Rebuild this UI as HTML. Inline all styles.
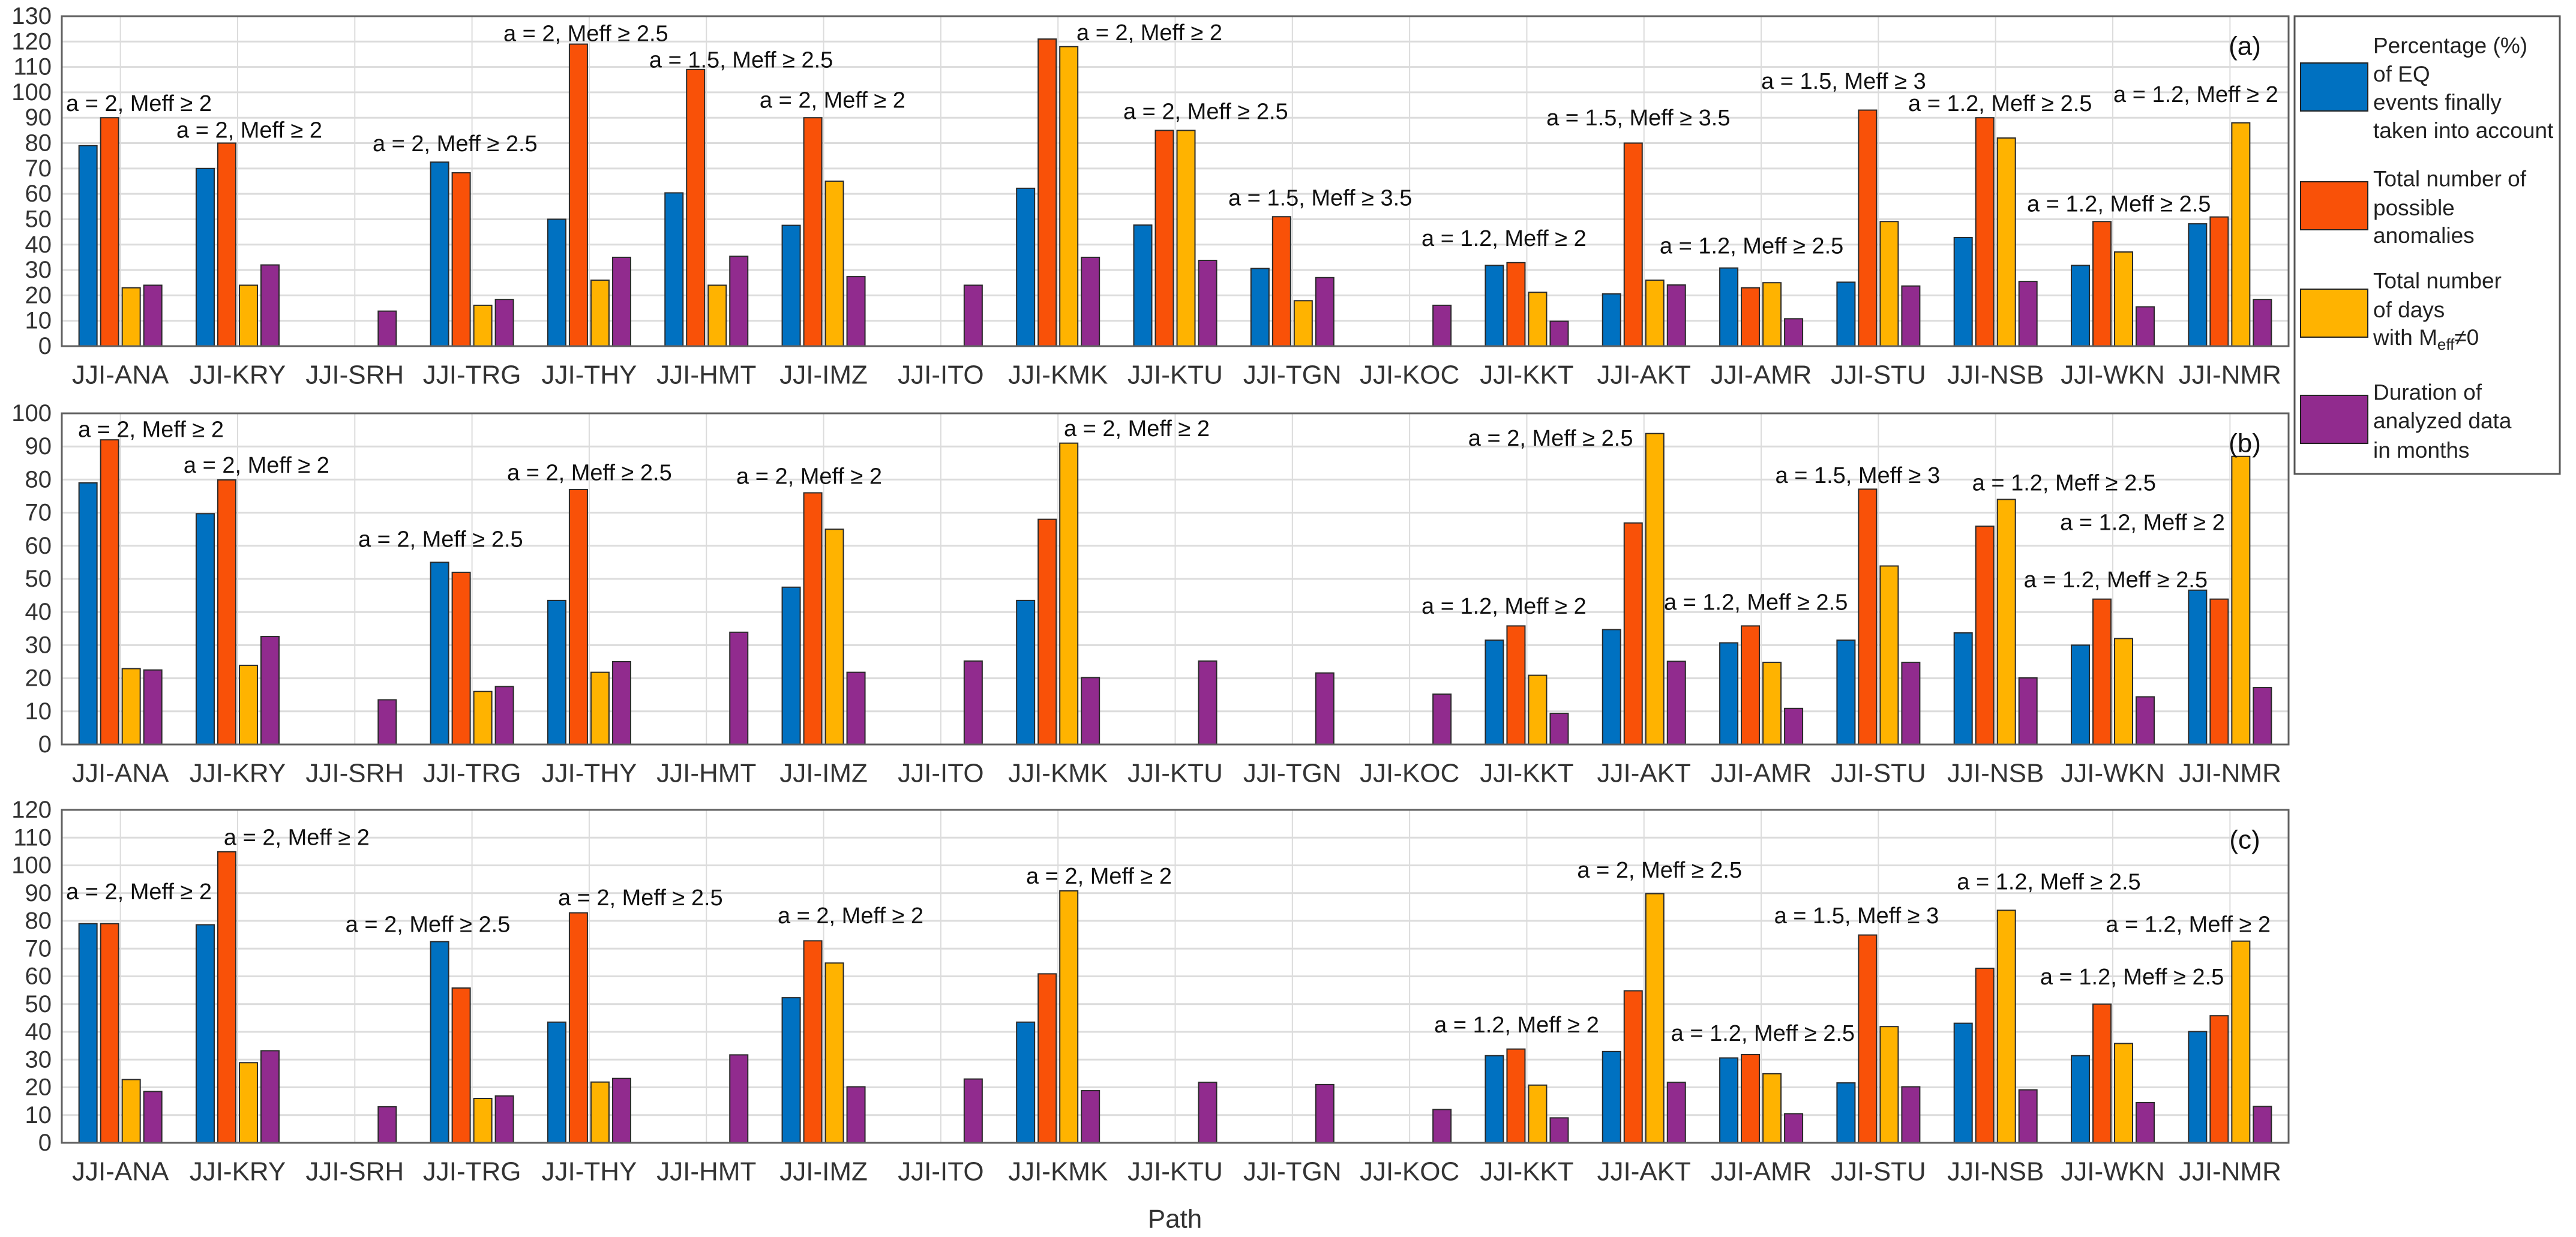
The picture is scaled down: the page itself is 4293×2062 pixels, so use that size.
<!DOCTYPE html>
<html><head><meta charset="utf-8"><style>
html,body{margin:0;padding:0;background:#fff;}
svg{display:block;font-family:"Liberation Sans",sans-serif;}
</style></head><body>
<svg id="chart" width="4293" height="2062" viewBox="0 0 4293 2062" xmlns="http://www.w3.org/2000/svg">
<g id="legend">
<rect x="3824" y="27" width="442" height="763" fill="#fff" stroke="#555" stroke-width="3"/>
<rect x="3834" y="105" width="112" height="80" fill="#0071c1" stroke="#222" stroke-width="2"/>
<rect x="3834" y="303" width="112" height="80" fill="#f95108" stroke="#222" stroke-width="2"/>
<rect x="3834" y="482" width="112" height="80" fill="#ffb300" stroke="#222" stroke-width="2"/>
<rect x="3834" y="659" width="112" height="80" fill="#912b8e" stroke="#222" stroke-width="2"/>
<g font-size="37" fill="#222" dominant-baseline="central">
<text x="3955" y="76">Percentage (%)<tspan x="3955" y="123">of EQ</tspan><tspan x="3955" y="170">events finally</tspan><tspan x="3955" y="217">taken into account</tspan></text>
<text x="3955" y="298">Total number of<tspan x="3955" y="346">possible</tspan><tspan x="3955" y="392">anomalies</tspan></text>
<text x="3955" y="468">Total number<tspan x="3955" y="516">of days</tspan><tspan x="3955" y="562">with M</tspan><tspan font-size="26" dy="12">eff</tspan><tspan dy="-12">≠0</tspan></text>
<text x="3955" y="654">Duration of<tspan x="3955" y="701">analyzed data</tspan><tspan x="3955" y="750">in months</tspan></text>
</g>
</g>
<text x="1958" y="2032" font-size="44" fill="#333" text-anchor="middle" dominant-baseline="central">Path</text>
</svg>
<script>
const categories = ["JJI-ANA","JJI-KRY","JJI-SRH","JJI-TRG","JJI-THY","JJI-HMT","JJI-IMZ","JJI-ITO","JJI-KMK","JJI-KTU","JJI-TGN","JJI-KOC","JJI-KKT","JJI-AKT","JJI-AMR","JJI-STU","JJI-NSB","JJI-WKN","JJI-NMR"];
const seriesNames = ["percentage","anomalies","days","duration"];
const seriesColors = ["#0071c1","#f95108","#ffb300","#912b8e"];

const aPercent = [79,70,0,72.5,50,60.4,47.6,0,62.2,47.7,30.6,0,31.8,20.6,30.8,25.2,42.8,31.8,48.2];
const aAnomalies = [90,80,0,68.3,119,109,90,0,121,85,51,0,32.9,80,23,93,90,49.1,50.9];
const aDays = [23,24,0,16.1,26,24,65,0,118,85,17.9,0,21.2,26,25,49.1,82,37.1,88];
const aDuration = [24,32,13.8,18.4,35,35.4,27.4,24,35,33.8,27,16.1,9.8,24.1,10.8,23.7,25.5,15.5,18.4];

const bPercent = [79,69.7,0,55,43.5,0,47.5,0,43.5,0,0,0,31.5,34.7,30.7,31.5,33.7,30,46.6];
const bAnomalies = [92,79.9,0,52,77,0,76,0,68,0,0,0,35.8,66.9,35.8,77.1,65.9,43.9,43.9];
const bDays = [22.9,23.9,0,16,21.8,0,65,0,91,0,0,0,20.9,93.9,24.8,53.9,74,32,87];
const bDuration = [22.5,32.6,13.5,17.5,25,33.9,21.8,25.2,20.2,25.2,21.6,15.2,9.4,25.1,10.9,24.8,20.1,14.4,17.2];

const cPercent = [79,78.6,0,72.5,43.5,0,52.3,0,43.5,0,0,0,31.4,32.9,30.6,21.6,43.1,31.4,40.1];
const cAnomalies = [79,104.9,0,55.8,82.9,0,72.8,0,60.9,0,0,0,33.8,54.8,31.8,74.9,62.9,50,45.8];
const cDays = [22.8,28.9,0,16,21.9,0,64.8,0,90.8,0,0,0,20.8,89.8,24.9,41.9,83.8,35.8,72.7];
const cDuration = [18.5,33.2,13,16.9,23.2,31.7,20.2,23,18.8,21.8,21,12,9,21.8,10.5,20.2,19.1,14.5,13.1];

const aNoteText = ["a = 2, Meff ≥ 2","a = 2, Meff ≥ 2","a = 2, Meff ≥ 2.5","a = 2, Meff ≥ 2.5","a = 1.5, Meff ≥ 2.5","a = 2, Meff ≥ 2","a = 2, Meff ≥ 2","a = 2, Meff ≥ 2.5","a = 1.5, Meff ≥ 3.5","a = 1.2, Meff ≥ 2","a = 1.5, Meff ≥ 3.5","a = 1.2, Meff ≥ 2.5","a = 1.5, Meff ≥ 3","a = 1.2, Meff ≥ 2.5","a = 1.2, Meff ≥ 2.5","a = 1.2, Meff ≥ 2"];
const aNoteX = [0.536,1.478,3.152,4.268,5.512,6.454,9.158,9.557,10.453,12.102,13.167,14.134,15.0,16.254,17.268,18.005];
const aNoteY = [95.5,85,79.7,123,112.6,96.8,123.4,92.3,58.3,42.3,89.8,39.4,104.2,95.5,55.9,99];

const bNoteText = ["a = 2, Meff ≥ 2","a = 2, Meff ≥ 2","a = 2, Meff ≥ 2.5","a = 2, Meff ≥ 2.5","a = 2, Meff ≥ 2","a = 2, Meff ≥ 2","a = 1.2, Meff ≥ 2","a = 2, Meff ≥ 2.5","a = 1.2, Meff ≥ 2.5","a = 1.5, Meff ≥ 3","a = 1.2, Meff ≥ 2.5","a = 1.2, Meff ≥ 2","a = 1.2, Meff ≥ 2.5"];
const bNoteX = [0.638,1.539,3.029,4.299,6.255,9.05,12.102,12.5,14.17,15.12,16.8,17.55,17.24];
const bNoteY = [95,84.2,61.9,82,80.9,95.3,41.7,92.4,42.8,81.2,78.9,66.9,49.6];

const cNoteText = ["a = 2, Meff ≥ 2","a = 2, Meff ≥ 2","a = 2, Meff ≥ 2.5","a = 2, Meff ≥ 2.5","a = 2, Meff ≥ 2","a = 2, Meff ≥ 2","a = 1.2, Meff ≥ 2","a = 2, Meff ≥ 2.5","a = 1.2, Meff ≥ 2.5","a = 1.5, Meff ≥ 3","a = 1.2, Meff ≥ 2.5","a = 1.2, Meff ≥ 2.5","a = 1.2, Meff ≥ 2"];
const cNoteX = [0.536,1.882,2.92,4.734,6.608,8.728,12.21,13.43,14.23,15.11,16.67,17.38,17.94];
const cNoteY = [90.4,109.9,78.6,88.2,81.7,96,42.4,98.2,39.3,81.7,93.9,59.7,78.6];

const panelLabels = ["(a)","(b)","(c)"];
const panelMax = [130,100,120];

const NS = "http://www.w3.org/2000/svg";
const svg = document.getElementById("chart");
const legend = document.getElementById("legend");
const L = 103, R = 3814;
const geo = [{top:27,bottom:577},{top:689,bottom:1241},{top:1350,bottom:1905}];
const panels = [
  {series:[aPercent,aAnomalies,aDays,aDuration], nt:aNoteText, nx:aNoteX, ny:aNoteY},
  {series:[bPercent,bAnomalies,bDays,bDuration], nt:bNoteText, nx:bNoteX, ny:bNoteY},
  {series:[cPercent,cAnomalies,cDays,cDuration], nt:cNoteText, nx:cNoteX, ny:cNoteY}
];
const step = (R-L)/categories.length;
function xScale(c){ return L + (c-0.5)*step; }
function mk(tag, attrs, parent){
  const e = document.createElementNS(NS, tag);
  for (const k in attrs) e.setAttribute(k, attrs[k]);
  (parent||svg).appendChild(e);
  return e;
}
const offs = [-54,-18,18,54];
panels.forEach((p, pi) => {
  const g = geo[pi], maxV = panelMax[pi];
  const yScale = v => g.bottom - v/maxV*(g.bottom-g.top);
  const grp = mk("g", {});
  
  
  // horizontal grid + ticks
  for (let v=0; v<=maxV; v+=10){
    const y = yScale(v);
    if (v>0 && v<maxV) mk("line",{x1:L,x2:R,y1:y,y2:y,stroke:"#dcdcdc","stroke-width":3},grp);
    const t = mk("text",{x:86,y:y,"font-size":40,fill:"#333","text-anchor":"end","dominant-baseline":"central"},grp);
    t.textContent = v;
    
    
  }
  // vertical grid + category labels
  categories.forEach((c, ci) => {
    const x = xScale(ci+1);
    mk("line",{x1:x,x2:x,y1:g.top,y2:g.bottom,stroke:"#dcdcdc","stroke-width":2},grp);
    const t = mk("text",{x:x,y:g.bottom+48,"font-size":44,fill:"#333","text-anchor":"middle","dominant-baseline":"central"},grp);
    t.textContent = c;
    
    
  });
  // bars
  p.series.forEach((arr, si) => {
    arr.forEach((v, ci) => {
      if (!v) return;
      const x = xScale(ci+1) + offs[si] - 15;
      const y = yScale(v);
      const r = mk("rect",{x:x,y:y,width:30,height:g.bottom-y,fill:seriesColors[si],stroke:"#2a2a2a","stroke-width":2},grp);
      
      
    });
  });
  // axes box
  const box = mk("rect",{x:L,y:g.top,width:R-L,height:g.bottom-g.top,fill:"none",stroke:"#606060","stroke-width":3},grp);
  
  
  // annotations
  p.nt.forEach((txt, i) => {
    const t = mk("text",{x:xScale(p.nx[i]),y:yScale(p.ny[i]),"font-size":38,fill:"#111","dominant-baseline":"central"},grp);
    t.textContent = txt;
    
    
  });
  const lab = mk("text",{x:3741,y:g.top+50,"font-size":44,fill:"#111","text-anchor":"middle","dominant-baseline":"central"},grp);
  lab.textContent = panelLabels[pi];
  
  
});
svg.appendChild(legend);
</script>
</body></html>
